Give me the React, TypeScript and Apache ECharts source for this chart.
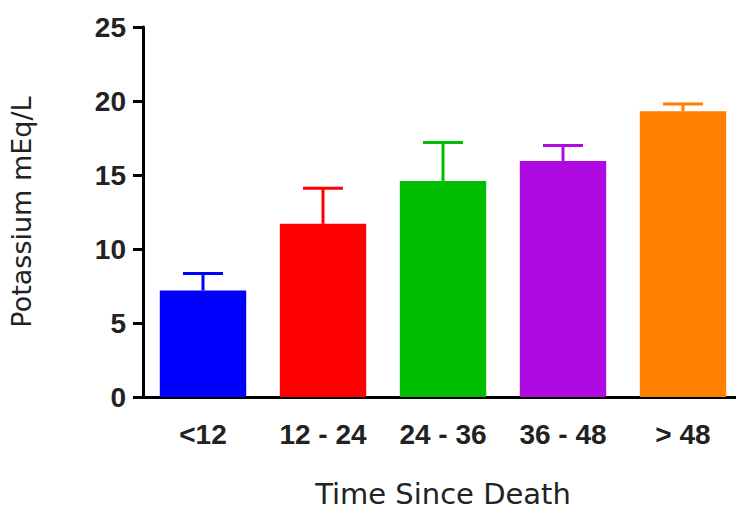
import React, { useEffect, useRef } from "react";
import * as echarts from "echarts";

const categories = ["<12", "12 - 24", "24 - 36", "36 - 48", "> 48"];
const means = [7.2, 11.7, 14.6, 15.95, 19.3];
const errors = [1.15, 2.4, 2.6, 1.05, 0.5];
const colors = ["#0000FF", "#FF0000", "#00BE00", "#B00AE2", "#FF8000"];
const yTicks = { min: 0, max: 25, interval: 5 };

export default function App() {
  const ref = useRef<HTMLDivElement>(null);
  useEffect(() => {
    if (!ref.current) return;
    const chart = echarts.init(ref.current, null, { renderer: "svg" });
    const font = "'Liberation Sans', Arial, sans-serif";
    const nameFont = "'DejaVu Sans', sans-serif";
    chart.setOption({
      animation: false,
      grid: { left: 143, top: 27, bottom: 114, right: -7, outerBoundsMode: "none", containLabel: false },
      xAxis: {
        type: "category",
        data: categories,
        name: "Time Since Death",
        nameLocation: "middle",
        nameGap: 82,
        nameTextStyle: { fontFamily: nameFont, fontSize: 29, color: "#222" },
        axisLine: { lineStyle: { color: "#000", width: 3 } },
        axisTick: { alignWithLabel: true, length: 10, lineStyle: { color: "#000", width: 3 } },
        axisLabel: { fontFamily: font, fontSize: 28, fontWeight: "bold", color: "#222", margin: 23 },
      },
      yAxis: {
        type: "value",
        min: yTicks.min,
        max: yTicks.max,
        interval: yTicks.interval,
        name: "Potassium mEq/L",
        nameLocation: "middle",
        nameGap: 108,
        nameTextStyle: { fontFamily: nameFont, fontSize: 27, color: "#222" },
        splitLine: { show: false },
        axisLine: { show: true, lineStyle: { color: "#000", width: 3 } },
        axisTick: { show: true, length: 10, lineStyle: { color: "#000", width: 3 } },
        axisLabel: { fontFamily: font, fontSize: 28, fontWeight: "bold", color: "#222", margin: 17 },
      },
      series: [
        {
          type: "bar",
          barCategoryGap: "28%",
          data: means.map((v, i) => ({ value: v, itemStyle: { color: colors[i] } })),
        },
        {
          type: "custom",
          data: means.map((v, i) => [i, v, v + errors[i]]),
          z: 1,
          renderItem: (params: any, api: any) => {
            const i = api.value(0);
            const base = api.coord([i, api.value(1)]);
            const top = api.coord([i, api.value(2)]);
            const half = 20;
            const c = colors[i];
            return {
              type: "group",
              children: [
                { type: "line", shape: { x1: base[0], y1: base[1], x2: top[0], y2: top[1] }, style: { stroke: c, lineWidth: 3 } },
                { type: "line", shape: { x1: top[0] - half, y1: top[1], x2: top[0] + half, y2: top[1] }, style: { stroke: c, lineWidth: 3 } },
              ],
            };
          },
        },
      ],
    });
    return () => chart.dispose();
  }, []);
  return <div ref={ref} style={{ width: 736, height: 511, position: "absolute", left: 0, top: 0 }} />;
}
